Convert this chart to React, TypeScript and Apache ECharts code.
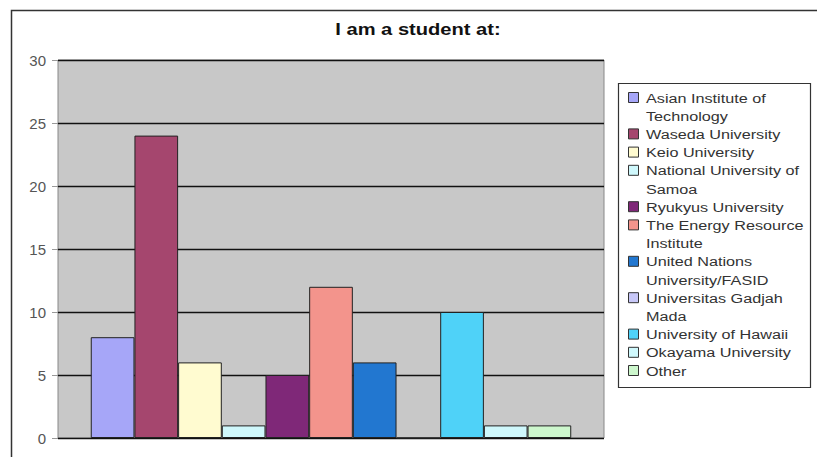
import React, { useEffect, useRef } from "react";
import * as echarts from "echarts";

const seriesNames = [
  "Asian Institute of Technology",
  "Waseda University",
  "Keio University",
  "National University of Samoa",
  "Ryukyus University",
  "The Energy Resource Institute",
  "United Nations University/FASID",
  "Universitas Gadjah Mada",
  "University of Hawaii",
  "Okayama University",
  "Other",
];
const legendLines = [
  ["Asian Institute of", "Technology"],
  ["Waseda University"],
  ["Keio University"],
  ["National University of", "Samoa"],
  ["Ryukyus University"],
  ["The Energy Resource", "Institute"],
  ["United Nations", "University/FASID"],
  ["Universitas Gadjah", "Mada"],
  ["University of Hawaii"],
  ["Okayama University"],
  ["Other"],
];
const values = [8, 24, 6, 1, 5, 12, 6, 0, 10, 1, 1];
const colors = [
  "#a6a6f8",
  "#a5466e",
  "#fffbd0",
  "#cff8fc",
  "#7f2878",
  "#f3948c",
  "#2277d0",
  "#c8c8f8",
  "#4fd2f8",
  "#cff8fc",
  "#cdf7cd",
];
const titleText = "I am a student at:";
const yTicks = { min: 0, max: 30, interval: 5 };

export default function App() {
  const ref = useRef<HTMLDivElement>(null);
  useEffect(() => {
    document.body.style.margin = "0";
    const chart = echarts.init(ref.current!, null, { renderer: "svg" });
    const font = "Liberation Sans, Arial, sans-serif";

    const legendChildren: any[] = [];
    const lineH = 18.2;
    let lineIdx = 0;
    legendLines.forEach((lines, i) => {
      const y0 = 98 + lineIdx * lineH;
      legendChildren.push({
        type: "rect",
        shape: { x: 628.5, y: y0 - 5.5, width: 10, height: 10 },
        style: { fill: colors[i], stroke: "#333", lineWidth: 1 },
      });
      lines.forEach((t, j) => {
        legendChildren.push({
          type: "text",
          x: 646,
          y: y0 + j * lineH,
          scaleX: 1.2,
          style: {
            text: t,
            fill: "#333",
            font: `13.5px ${font}`,
            verticalAlign: "middle",
          },
        });
      });
      lineIdx += lines.length;
    });

    chart.setOption({
      animation: false,
      backgroundColor: "#ffffff",
      grid: {
        left: 58,
        right: 213,
        top: 60,
        bottom: 19,
        show: true,
        backgroundColor: "#c8c8c8",
        borderColor: "#888",
        borderWidth: 1,
      },
      xAxis: {
        type: "category",
        data: [""],
        axisLine: { show: false },
        axisTick: { show: false },
        axisLabel: { show: false },
      },
      yAxis: {
        type: "value",
        min: yTicks.min,
        max: yTicks.max,
        interval: yTicks.interval,
        axisLine: { show: false },
        axisTick: { show: true, length: 6, lineStyle: { color: "#999" } },
        axisLabel: { color: "#555", fontSize: 15, fontFamily: font, margin: 12 },
        splitLine: { show: true, lineStyle: { color: "#111", width: 1.3 } },
      },
      series: seriesNames.map((name, i) => ({
        type: "bar",
        name,
        data: [values[i]],
        barGap: "0%",
        barCategoryGap: "12%",
        itemStyle: { color: colors[i], borderColor: "#222", borderWidth: 1 },
      })),
      graphic: [
        {
          type: "rect",
          shape: { x: 11.5, y: 10.5, width: 830, height: 470 },
          style: { fill: "none", stroke: "#333", lineWidth: 1.5 },
          silent: true,
        },
        {
          type: "text",
          x: 418,
          y: 29,
          scaleX: 1.22,
          style: {
            text: titleText,
            fill: "#111",
            font: `bold 16.5px ${font}`,
            align: "center",
            verticalAlign: "middle",
          },
        },
        {
          type: "rect",
          shape: { x: 618.5, y: 83.5, width: 192, height: 304 },
          style: { fill: "#fff", stroke: "#333", lineWidth: 1.2 },
        },
        ...legendChildren,
      ],
    });
    return () => chart.dispose();
  }, []);
  return <div ref={ref} style={{ width: 817, height: 457 }} />;
}
